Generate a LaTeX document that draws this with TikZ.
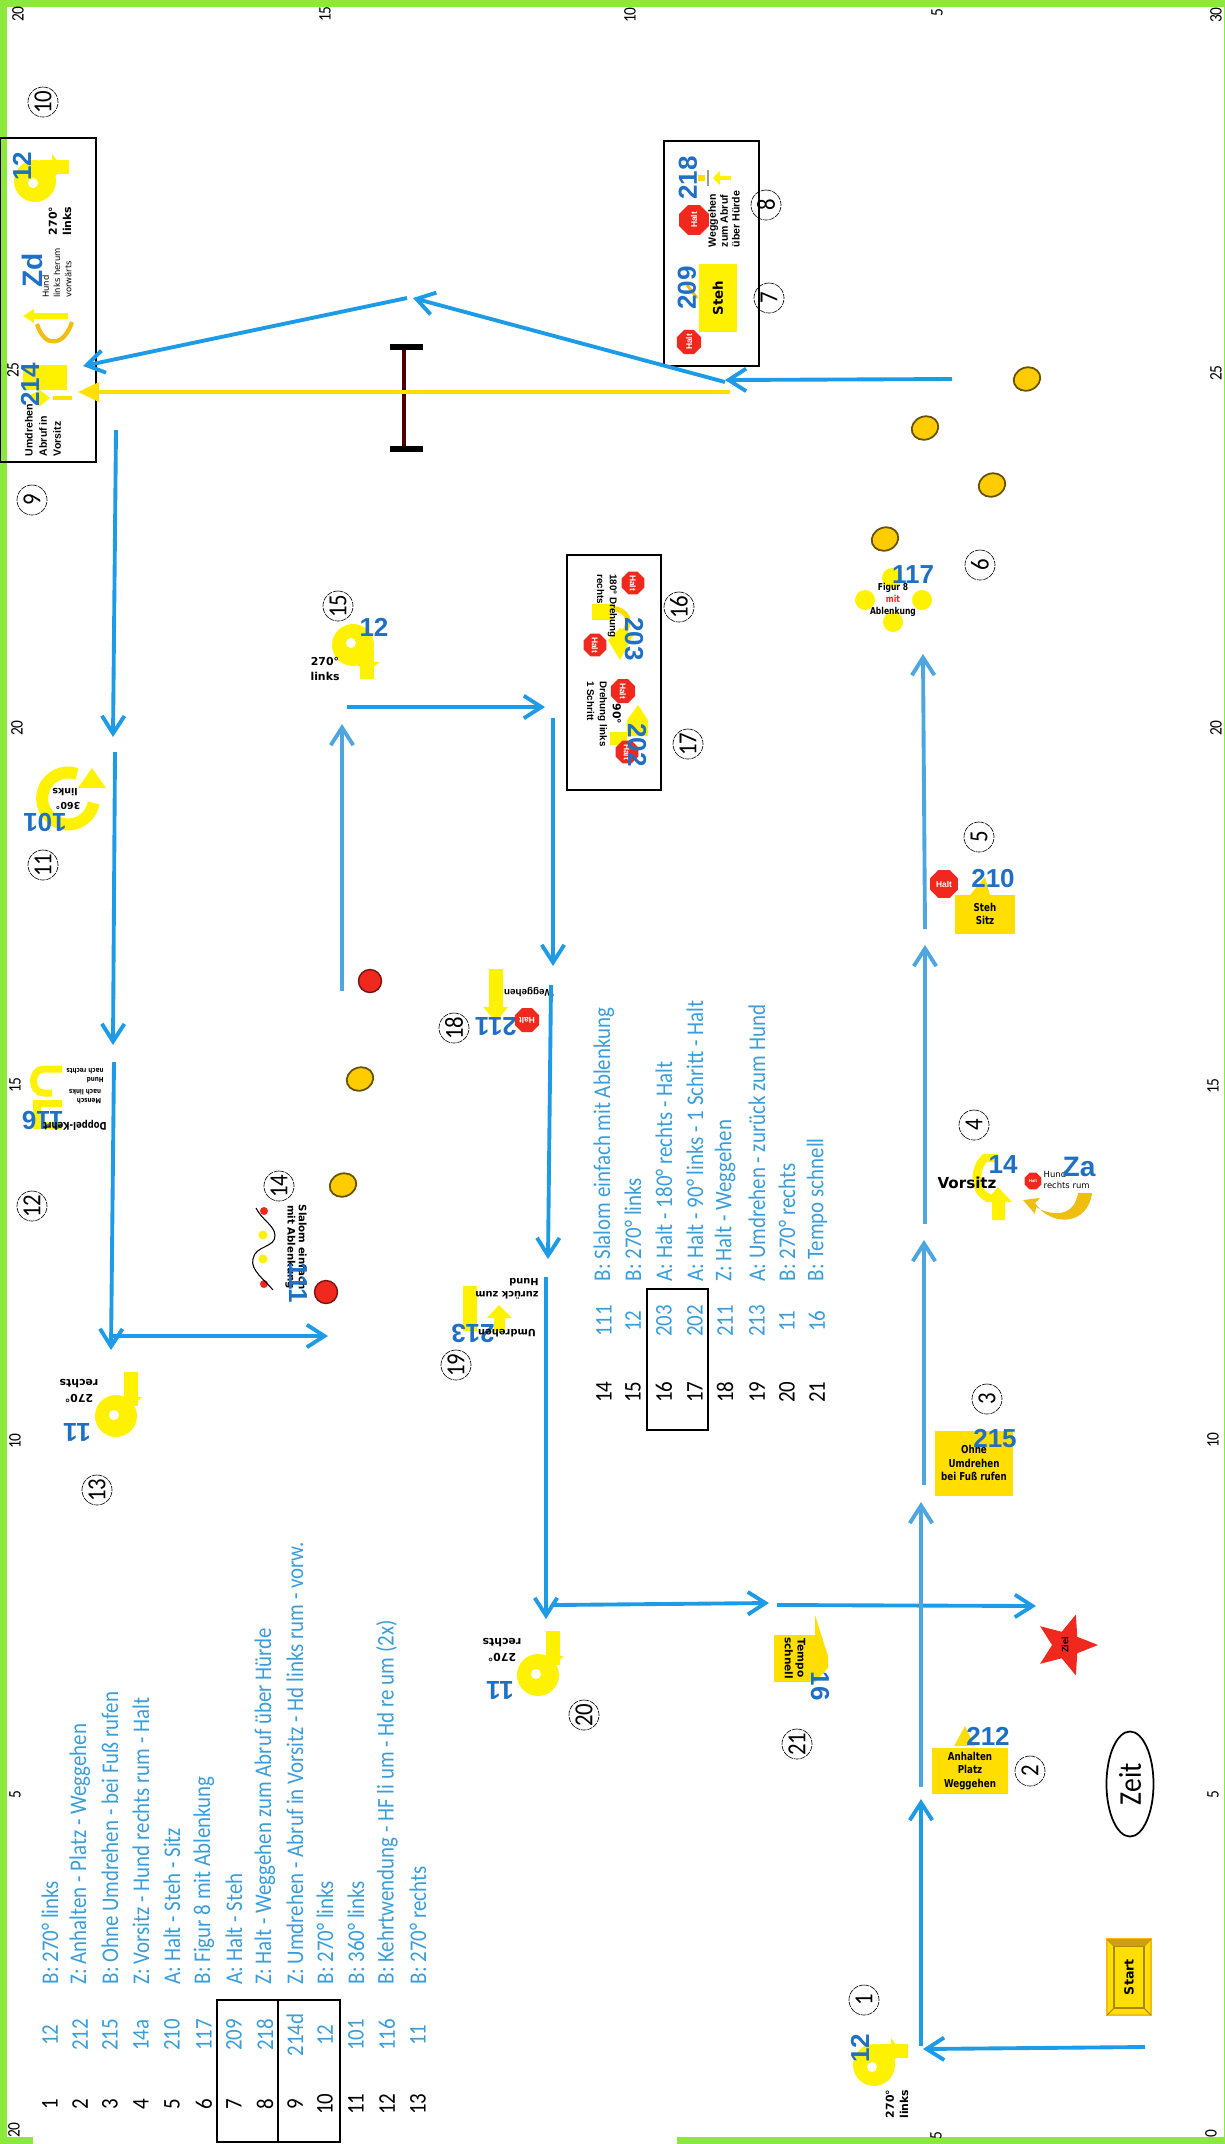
\documentclass[tikz,border=0pt]{standalone}
\usepackage{fontspec}
\setmainfont{Liberation Sans}
\newfontfamily\listfont[FakeStretch=0.875]{Carlito}
\newfontfamily\signfont{DejaVu Sans}
\newfontfamily\signnarrow[FakeStretch=0.8]{DejaVu Sans}
\usetikzlibrary{arrows.meta,shapes.geometric}
\definecolor{framegreen}{HTML}{8CE83A}
\definecolor{courseblue}{HTML}{1E9BE6}
\definecolor{paleblue}{HTML}{4EA6E0}
\definecolor{listblue}{HTML}{3A9DDB}
\definecolor{numblue}{HTML}{1F6FC4}
\definecolor{signyellow}{HTML}{FFF200}
\definecolor{boxyellow}{HTML}{FFDE00}
\definecolor{linegold}{HTML}{FFE000}
\definecolor{conegold}{HTML}{FFCC00}
\definecolor{bowgold}{HTML}{F0BE10}
\definecolor{haltred}{HTML}{F0281E}
\tikzset{
  >={Straight Barb[length=5pt,width=6.4pt]},
  every node/.style={inner sep=0pt},
  rotup/.style={rotate=90},
  rotdown/.style={rotate=-90},
  rotflip/.style={rotate=180},
  course/.style={->,draw=courseblue,line width=1.1pt},
  paleline/.style={->,draw=paleblue,line width=1.1pt},
  ruler/.style={rotate=90,font=\listfont\fontsize{5}{6}\selectfont},
  listnum/.style={rotate=90,font=\listfont\fontsize{6.8}{8}\selectfont},
  listcode/.style={rotate=90,text=listblue,font=\listfont\fontsize{6.8}{8}\selectfont},
  listtext/.style={rotate=90,anchor=west,text=listblue,font=\listfont\fontsize{6.8}{8}\selectfont},
  listbox/.style={draw=black,line width=.6pt},
  stationmark/.style={circle,draw,rotate=90,line width=.18pt,dash pattern=on 1.5pt off .3pt,
    minimum size=.3cm,font=\listfont\fontsize{7.4}{8}\selectfont},
  signnum/.style={text=numblue,font=\bfseries\fontsize{7.4}{8}\selectfont},
  tinytext/.style={align=center,font=\signfont\bfseries\fontsize{3.1}{4.1}\selectfont},
  thintext/.style={align=left,font=\signfont\fontsize{2.4}{3.2}\selectfont},
  yellowbox/.style={fill=boxyellow,align=center,font=\signnarrow\bfseries\fontsize{3.1}{3.8}\selectfont},
  haltsign/.style={regular polygon,regular polygon sides=8,fill=haltred,text=white,
    font=\bfseries\fontsize{2.4}{3}\selectfont},
  cone/.style={ellipse,fill=conegold,draw=black!60!conegold,line width=.5pt,
    minimum width=.27cm,minimum height=.23cm,rotate=20},
  redcone/.style={circle,fill=haltred,draw=black!50!haltred,line width=.4pt,minimum size=.23cm},
  dotmark/.style={circle,fill=signyellow,minimum size=.2cm},
  lturn/.pic={
    \fill[signyellow] (0,0) circle[radius=21];
    \fill[signyellow] (5,-21) rectangle (34,-7);
    \fill[signyellow] (17,-27) -- (27,-14) -- (17,0) -- cycle;
    \fill[white] (-2,2) circle[radius=5];
  },
  rturn/.pic={
    \fill[signyellow] (0,0) circle[radius=21];
    \fill[signyellow] (8,-44) rectangle (22,-10);
    \fill[signyellow] (2,-19) -- (26,-19) -- (14,-8) -- cycle;
    \fill[white] (-2,-1) circle[radius=5];
  }
}
\begin{document}
\begin{tikzpicture}[x=.01cm,y=-.01cm]
  \useasboundingbox (0,0) rectangle (1225,2144);
  % frame
  \fill[framegreen] (0,0) rectangle (1225,7);
  \fill[framegreen] (0,0) rectangle (7,2144);
  \fill[framegreen] (1224,0) rectangle (1225,2144);
  \fill[framegreen] (677,2137) rectangle (1225,2144);
  \fill[framegreen] (0,2137) rectangle (33,2144);
  % ruler numbers
  \foreach \x/\y/\t [count=\i] in {18/14/20,325/14/15,630/15/10,937/13/5,1216/15/30,
      1216/373/25,1216/728/20,1213/1086/15,1213/1440/10,1213/1795/5,1211/2134/0,
      936/2136/5,14/2130/20,17/728/20,15/1085/15,15/1441/10,15/1795/5,13/370/25}
    \node[ruler] (mark\i) at (\x,\y) {\t};
  % exercise list
  \foreach \x/\n/\c/\t in {50/1/12/B: 270° links,80/2/212/Z: Anhalten - Platz - Weggehen,
      110/3/215/B: Ohne Umdrehen - bei Fuß rufen,141/4/14a/Z: Vorsitz - Hund rechts rum - Halt,
      172/5/210/A: Halt - Steh - Sitz,204/6/117/B: Figur 8 mit Ablenkung,
      234/7/209/A: Halt - Steh,265/8/218/Z: Halt - Weggehen zum Abruf über Hürde,
      295/9/214d/Z: Umdrehen - Abruf in Vorsitz - Hd links rum - vorw.,325/10/12/B: 270° links,
      356/11/101/B: 360° links,387/12/116/B: Kehrtwendung - HF li um - Hd re um (2x),
      418/13/11/B: 270° rechts} {
    \node[listnum] (num\n) at (\x,2104) {\n};
    \node[listcode] (code\n) at (\x,2035) {\c};
    \node[listtext] (desc\n) at (\x,1985) {\t};
  }
  \foreach \x/\n/\c/\t in {604/14/111/B: Slalom einfach mit Ablenkung,633/15/12/B: 270° links,
      664/16/203/A: Halt - 180° rechts - Halt,695/17/202/A: Halt - 90° links - 1 Schritt - Halt,
      725/18/211/Z: Halt - Weggehen,757/19/213/A: Umdrehen - zurück zum Hund,
      787/20/11/B: 270° rechts,817/21/16/B: Tempo schnell} {
    \node[listnum] (num\n) at (\x,1392) {\n};
    \node[listcode] (code\n) at (\x,1321) {\c};
    \node[listtext] (desc\n) at (\x,1282) {\t};
  }
  \draw[listbox] (217,2000) rectangle (340,2142);
  \draw[listbox] (278,2000) -- (278,2142);
  \draw[listbox] (647,1289) rectangle (708,1430);
  \draw[listbox,line width=.4pt] (0,138) rectangle (96,462);
  \draw[listbox,line width=.4pt] (664,141) rectangle (759,366);
  \draw[listbox,line width=.4pt] (567,555) rectangle (661,790);
  % station numbers
  \foreach \x/\y/\n in {864/2000/1,1030/1771/2,987/1399/3,974/1125/4,979/837/5,980/565/6,
      769/298/7,766/205/8,32/500/9,43/102/10,43/865/11,32/1206/12,97/1490/13,279/1186/14,
      338/606/15,679/607/16,688/744/17,454/1028/18,456/1365/19,584/1715/20,797/1744/21}
    \node[stationmark] (st\n) at (\x,\y) {\n};
  % cones
  \foreach \x/\y [count=\i] in {1027/379,925/428,992/485,885/539,360/1079,343/1185}
    \node[cone] (cone\i) at (\x,\y) {};
  \node[redcone] (red1) at (370,981) {};
  \node[redcone] (red2) at (326,1292) {};
  % hurdle
  \coordinate (hurdleA) at (404,347);
  \coordinate (hurdleB) at (404,449);
  \draw[line width=1pt,black!70!red] (hurdleA) -- (hurdleB);
  \draw[line width=1.6pt] (390,347) -- (423,347);
  \draw[line width=1.6pt] (390,449) -- (423,449);
  % start and finish
  \node[rectangle,rotup,fill=boxyellow,draw=bowgold,line width=.5pt,minimum width=.76cm,
    minimum height=.44cm,font=\signfont\bfseries\fontsize{3.6}{4}\selectfont] (start) at (1129,1977) {Start};
  \draw[black!30!bowgold,line width=.5pt] (1114,1946) rectangle (1144,2008);
  \draw[black!30!bowgold,line width=.3pt] (1107,1939) -- (1114,1946) (1151,1939) -- (1144,1946)
    (1107,2015) -- (1114,2008) (1151,2015) -- (1144,2008);
  \fill[black!15!bowgold] (1107,1939) -- (1151,1939) -- (1144,1946) -- (1114,1946) -- cycle;
  \node[ellipse,draw,rotup,line width=.5pt,minimum width=1.05cm,minimum height=.47cm,
    font=\listfont\fontsize{9}{10}\selectfont] (zeit) at (1130,1784) {Zeit};
  \node[star,star points=5,star point ratio=2.3,shape border rotate=-90,fill=haltred,
    minimum size=.64cm] (ziel) at (1066,1645) {};
  \node[rotup,font=\bfseries\fontsize{2.6}{3}\selectfont] (zieltext) at (1065,1645) {Ziel};
  % 1
  \pic (turnA) at (874,2065) {lturn};
  \node[signnum,rotup] (n1) at (860,2048) {12};
  \node[tinytext,rotup] (t1) at (897,2104) {270°\\links};
  % 2
  \fill[boxyellow] (954,1746) -- (965,1726) -- (975,1746) -- cycle;
  \node[yellowbox,minimum width=.75cm,minimum height=.46cm] (t2) at (970,1771) {Anhalten\\Platz\\Weggehen};
  \node[signnum] (n2) at (988,1736) {212};
  % 3
  \node[yellowbox,minimum width=.78cm,minimum height=.65cm] (t3) at (974,1463) {Ohne\\Umdrehen\\bei Fuß rufen};
  \node[signnum] (n3) at (995,1439) {215};
  % 4
  \draw[signyellow,line width=2.4pt] (998,1158) -- (985,1158) .. controls (972,1170) and (975,1195) .. (990,1198);
  \fill[signyellow] (992,1220) -- (992,1202) -- (985,1202) -- (998,1187) -- (1012,1202) -- (1005,1202) -- (1005,1220) -- cycle;
  \node[font=\signfont\bfseries\fontsize{4.3}{5}\selectfont] (t4) at (967,1183) {Vorsitz};
  \node[signnum] (n4) at (1003,1165) {14};
  \node[haltsign,minimum size=.18cm,font=\bfseries\fontsize{1.2}{1.5}\selectfont] (halt4) at (1033,1181) {Halt};
  \node[thintext,anchor=west] (t4b) at (1043,1180) {Hund\\rechts rum};
  \node[signnum,font=\bfseries\fontsize{8}{9}\selectfont] (n4b) at (1079,1167) {Za};
  \fill[bowgold] (1092,1193) .. controls (1088,1225) and (1052,1228) .. (1035,1203)
    -- (1040,1198) -- (1023,1200) -- (1035,1214) -- (1036,1207)
    .. controls (1055,1218) and (1075,1215) .. (1078,1193) -- cycle;
  % 5
  \node[haltsign,minimum size=.3cm] (halt5) at (944,884) {Halt};
  \fill[boxyellow] (970,895) -- (985,877) -- (990,895) -- cycle;
  \node[yellowbox,minimum width=.59cm,minimum height=.39cm] (t5) at (985,914) {Steh\\Sitz};
  \node[signnum] (n5) at (993,879) {210};
  % 6
  \foreach \x/\y [count=\i] in {892/578,865/600,922/600,893/622}
    \node[dotmark] (fig\i) at (\x,\y) {};
  \node[tinytext,font=\signnarrow\bfseries\fontsize{2.7}{3.3}\selectfont] (t6) at (893,600) {Figur 8\\\textcolor{haltred}{mit}\\Ablenkung};
  \node[signnum] (n6) at (913,575) {117};
  % 7 and 8
  \node[haltsign,minimum size=.26cm,rotup] (halt7) at (689,342) {Halt};
  \node[yellowbox,fill=signyellow,rotup,minimum width=.67cm,minimum height=.38cm,font=\signfont\bfseries\fontsize{3.8}{5}\selectfont] (t7) at (718,298) {Steh};
  \draw[bowgold,line width=.8pt] (697,298) -- (687,285);
  \node[signnum,rotup] (n7) at (687,288) {209};
  \node[haltsign,minimum size=.32cm,rotup] (halt8) at (694,220) {Halt};
  \node[signnum,rotup] (n8) at (688,178) {218};
  \fill[boxyellow] (698,175) rectangle (705,181);
  \draw[black!40,line width=.3pt] (708,170) -- (708,186);
  \draw[signyellow,line width=1pt,-{Triangle[length=2pt,width=4pt]}] (731,178) -- (713,178);
  \node[tinytext,rotup,align=left,font=\bfseries\fontsize{3}{3.4}\selectfont] (t8) at (724,219) {Weggehen\\zum Abruf\\über Hürde};
  % 9 and 10
  \fill[signyellow] (23,365) rectangle (67,390);
  \fill[signyellow] (28,396) -- (40,390) -- (50,398) -- (40,406) -- cycle;
  \draw[linegold,line width=1pt] (53,398) -- (72,398);
  \node[signnum,rotup] (n9) at (30,385) {214};
  \node[tinytext,rotup,align=left,font=\bfseries\fontsize{3}{4}\selectfont] (t9) at (43,430) {Umdrehen\\Abruf in\\Vorsitz};
  \draw[bowgold,line width=1.2pt] (37,324) .. controls (45,350) and (65,345) .. (72,322);
  \fill[signyellow] (23,316) -- (34,309) -- (34,313) -- (68,313) -- (68,319) -- (34,319) -- (34,323) -- cycle;
  \node[signnum,rotup,font=\bfseries\fontsize{8}{9}\selectfont] (n10b) at (32,270) {Zd};
  \node[thintext,rotup] (t10b) at (57,273) {Hund\\links herum\\vorwärts};
  \pic (turnB) at (35,181) {lturn};
  \node[signnum,rotup] (n10) at (22,166) {12};
  \node[tinytext,rotup] (t10) at (60,221) {270°\\links};
  % 11
  \draw[signyellow,line width=3.4pt] (77,774) arc[start angle=-70,end angle=-350,radius=26];
  \fill[signyellow] (78,788) -- (106,788) -- (92,768) -- cycle;
  \node[rotflip,font=\signfont\bfseries\fontsize{2.7}{3.6}\selectfont] (t11) at (65,792) {links};
  \node[rotflip,font=\signfont\bfseries\fontsize{2.7}{3.6}\selectfont] (t11b) at (68,806) {360°};
  \node[signnum,rotflip] (n11) at (45,822) {101};
  % 12
  \draw[signyellow,line width=2pt] (62,1069) -- (44,1069) .. controls (30,1069) and (30,1093) .. (44,1093) -- (52,1093);
  \draw[signyellow,line width=2pt] (62,1103) -- (37,1103) -- (37,1125) -- (62,1125);
  \node[signnum,rotflip] (n12) at (43,1120) {116};
  \node[tinytext,rotflip,font=\signnarrow\bfseries\fontsize{3}{3.6}\selectfont] (t12) at (75,1125) {Doppel-Kehrt};
  \node[thintext,rotflip,font=\signnarrow\bfseries\fontsize{2}{2.6}\selectfont] (t12b) at (85,1097) {Mensch\\nach links};
  \node[thintext,rotflip,font=\signnarrow\bfseries\fontsize{2}{2.6}\selectfont] (t12c) at (85,1076) {Hund\\nach rechts};
  % 13
  \pic (turnC) at (116,1416) {rturn};
  \node[signnum,rotflip] (n13) at (77,1432) {11};
  \node[tinytext,rotflip] (t13) at (79,1391) {270°\\rechts};
  % 14
  \node[circle,fill=haltred,minimum size=.08cm] (dotA) at (264,1211) {};
  \node[circle,fill=signyellow,minimum size=.09cm] (dotB) at (263,1235) {};
  \node[circle,fill=signyellow,minimum size=.09cm] (dotC) at (263,1259) {};
  \node[circle,fill=haltred,minimum size=.08cm] (dotD) at (264,1284) {};
  \draw[line width=.3pt] (273,1290) .. controls (265,1280) and (250,1270) .. (253,1259)
    .. controls (255,1245) and (276,1248) .. (275,1235) .. controls (274,1225) and (262,1220) .. (256,1208);
  \node[tinytext,rotdown,font=\signfont\bfseries\fontsize{2.9}{3.2}\selectfont] (t14) at (296,1247) {Slalom einfach\\mit Ablenkung};
  \node[signnum,rotdown] (n14) at (298,1283) {111};
  % 15
  \pic[rotate=-90] (turnD) at (353,645) {lturn};
  \node[signnum] (n15) at (374,627) {12};
  \node[tinytext] (t15) at (325,669) {270°\\links};
  % 16 and 17
  \node[haltsign,minimum size=.24cm,rotdown] (halt16) at (633,583) {Halt};
  \fill[signyellow] (592,604) rectangle (612,620);
  \draw[bowgold!40!signyellow,line width=1.5pt] (610,608) .. controls (630,610) and (632,622) .. (622,636);
  \fill[signyellow] (608,640) -- (620,628) -- (633,635) -- (620,660) -- cycle;
  \node[haltsign,minimum size=.24cm,rotdown] (halt16b) at (595,645) {Halt};
  \node[tinytext,rotdown,align=left,font=\bfseries\fontsize{2.8}{3.6}\selectfont] (t16) at (607,606) {180° Drehung\\rechts};
  \node[signnum,rotdown] (n16) at (634,639) {203};
  \node[haltsign,minimum size=.26cm,rotdown] (halt17) at (623,691) {Halt};
  \fill[signyellow] (610,732) rectangle (627,745);
  \fill[signyellow] (627,736) -- (627,720) -- (638,705) -- (648,720) -- (648,736) -- cycle;
  \node[haltsign,minimum size=.24cm,rotdown] (halt17b) at (627,752) {Halt};
  \node[tinytext,rotdown] (t17a) at (617,714) {90°};
  \node[signnum,rotdown] (n17) at (637,745) {202};
  \node[tinytext,rotdown,align=left,font=\bfseries\fontsize{2.8}{3.6}\selectfont] (t17) at (597,714) {Drehung links\\1 Schritt};
  % 18
  \fill[signyellow] (489,969) rectangle (503,1008);
  \fill[signyellow] (483,1007) -- (508,1007) -- (496,1022) -- cycle;
  \node[signnum,rotflip] (n18) at (496,1027) {211};
  \node[haltsign,minimum size=.26cm,rotflip] (halt18) at (527,1020) {Halt};
  \node[tinytext,rotflip,font=\bfseries\fontsize{2.8}{3.6}\selectfont] (t18) at (529,992) {Weggehen};
  % 19
  \fill[signyellow] (463,1286) rectangle (477,1331);
  \fill[signyellow] (494,1331) -- (494,1318) -- (487,1318) -- (499,1305) -- (512,1318) -- (505,1318) -- (505,1331) -- cycle;
  \node[signnum,rotflip] (n19) at (473,1333) {213};
  \node[tinytext,rotflip,font=\signfont\bfseries\fontsize{2.8}{3.6}\selectfont] (t19) at (507,1333) {Umdrehen};
  \node[tinytext,rotflip,align=left,font=\signfont\bfseries\fontsize{2.8}{3.6}\selectfont] (t19b) at (507,1289) {zurück zum\\Hund};
  % 20
  \pic (turnE) at (538,1675) {rturn};
  \node[signnum,rotflip] (n20) at (500,1690) {11};
  \node[tinytext,rotflip] (t20) at (502,1650) {270°\\rechts};
  % 21
  \fill[boxyellow] (815,1615) -- (828,1656) -- (828,1668) -- (815,1682) -- cycle;
  \node[yellowbox,rotdown,minimum width=.47cm,minimum height=.41cm,font=\signfont\bfseries\fontsize{3}{3.6}\selectfont] (t21) at (795,1658) {Tempo\\schnell};
  \node[signnum,rotdown] (n21) at (820,1686) {16};
  % course points
  \coordinate (p1) at (1145,2047);
  \coordinate (p2) at (923,2049);
  \coordinate (p3) at (921,2046);
  \coordinate (p4) at (921,1799);
  \coordinate (p5) at (921,1787);
  \coordinate (p6) at (921,1502);
  \coordinate (p7) at (924,1485);
  \coordinate (p8) at (924,1240);
  \coordinate (p9) at (925,1224);
  \coordinate (p10) at (925,945);
  \coordinate (p11) at (925,929);
  \coordinate (p12) at (923,654);
  \coordinate (p13) at (952,379);
  \coordinate (p14) at (725,380);
  \coordinate (p15) at (725,382);
  \coordinate (p16) at (413,298);
  \coordinate (p17) at (407,298);
  \coordinate (p18) at (83,366);
  \coordinate (p19) at (116,430);
  \coordinate (p20) at (113,737);
  \coordinate (p21) at (115,752);
  \coordinate (p22) at (113,1045);
  \coordinate (p23) at (114,1062);
  \coordinate (p24) at (111,1350);
  \coordinate (p25) at (113,1336);
  \coordinate (p26) at (328,1336);
  \coordinate (p27) at (347,707);
  \coordinate (p28) at (545,707);
  \coordinate (p29) at (553,718);
  \coordinate (p30) at (553,966);
  \coordinate (p31) at (551,985);
  \coordinate (p32) at (548,1259);
  \coordinate (p33) at (546,1277);
  \coordinate (p34) at (546,1619);
  \coordinate (p35) at (554,1605);
  \coordinate (p36) at (769,1603);
  \coordinate (p37) at (777,1605);
  \coordinate (p38) at (1036,1606);
  \coordinate (q1) at (342,991);
  \coordinate (q2) at (342,724);
  \coordinate (y1) at (730,392);
  \coordinate (y2) at (78,392);
  % course
  \foreach \a/\b in {1/2,3/4,13/14,15/16,17/18,19/20,21/22,23/24,25/26,27/28,29/30,31/32,33/34,35/36,37/38}
    \draw[course] (p\a) -- (p\b);
  \foreach \a/\b in {5/6,7/8,9/10,11/12}
    \draw[paleline] (p\a) -- (p\b);
  \draw[paleline] (q1) -- (q2);
  \draw[draw=linegold,line width=.9pt,-{Triangle[length=6pt,width=5.5pt]}] (y1) -- (y2);
\end{tikzpicture}
\end{document}
